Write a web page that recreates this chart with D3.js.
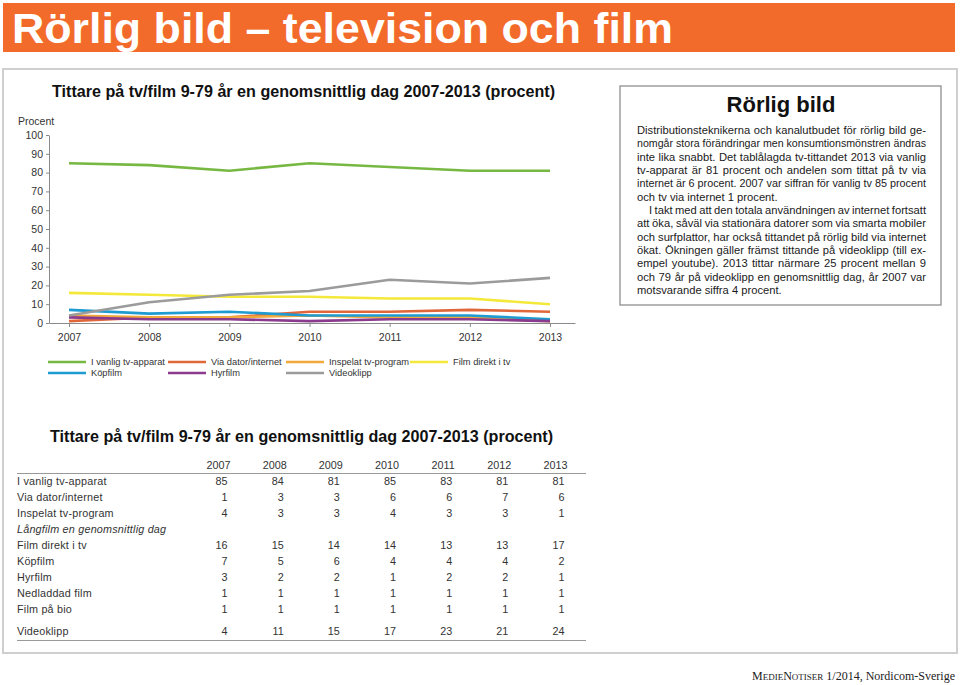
<!DOCTYPE html>
<html><head><meta charset="utf-8">
<script src="https://cdn.jsdelivr.net/npm/d3@7"></script>
<style>
html,body{margin:0;padding:0;background:#fff;}
svg{display:block;font-family:"Liberation Sans",Arial,Helvetica,sans-serif;}
</style></head>
<body><svg id="c" width="960" height="685"></svg>
<script>
// ---------- data ----------
const years = [2007, 2008, 2009, 2010, 2011, 2012, 2013];
const seriesNames = ["I vanlig tv-apparat","Via dator/internet","Inspelat tv-program","Film direkt i tv","Köpfilm","Hyrfilm","Videoklipp"];
const seriesColors = ["#77b843","#e0673a","#f2a93b","#f4e93a","#1e9bd1","#8b3b8d","#9b9b9b"];
const vanligTv   = [85, 84, 81, 85, 83, 81, 81];
const viaDator   = [1, 3, 3, 6, 6, 7, 6];
const inspelat   = [4, 3, 3, 4, 3, 3, 1];
const filmDirekt = [16, 15, 14, 14, 13, 13, 10];
const kopfilm    = [7, 5, 6, 4, 4, 4, 2];
const hyrfilm    = [3, 2, 2, 1, 2, 2, 1];
const videoklipp = [4, 11, 15, 17, 23, 21, 24];
const seriesValues = [vanligTv, viaDator, inspelat, filmDirekt, kopfilm, hyrfilm, videoklipp];
const yTicks = [0,10,20,30,40,50,60,70,80,90,100];

// table
const tableRowLabels = ["I vanlig tv-apparat","Via dator/internet","Inspelat tv-program","Långfilm en genomsnittlig dag","Film direkt i tv","Köpfilm","Hyrfilm","Nedladdad film","Film på bio","Videoklipp"];
const tableRows = [
  ["85","84","81","85","83","81","81"],
  ["1","3","3","6","6","7","6"],
  ["4","3","3","4","3","3","1"],
  null,
  ["16","15","14","14","13","13","17"],
  ["7","5","6","4","4","4","2"],
  ["3","2","2","1","2","2","1"],
  ["1","1","1","1","1","1","1"],
  ["1","1","1","1","1","1","1"],
  ["4","11","15","17","23","21","24"]
];

const pageTitle = "Rörlig bild – television och film";
const chartTitle = "Tittare på tv/film 9-79 år en genomsnittlig dag 2007-2013 (procent)";
const boxTitle = "Rörlig bild";
const boxPara1 = [
 "Distributionsteknikerna och kanalutbudet för rörlig bild ge-",
 "nomgår stora förändringar men konsumtionsmönstren ändras",
 "inte lika snabbt. Det tablålagda tv-tittandet 2013 via vanlig",
 "tv-apparat är 81 procent och andelen som tittat på tv via",
 "internet är 6 procent. 2007 var siffran för vanlig tv 85 procent",
 "och tv via internet 1 procent."];
const boxPara2 = [
 "I takt med att den totala användningen av internet fortsatt",
 "att öka, såväl via stationära datorer som via smarta mobiler",
 "och surfplattor, har också tittandet på rörlig bild via internet",
 "ökat. Ökningen gäller främst tittande på videoklipp (till ex-",
 "empel youtube). 2013 tittar närmare 25 procent mellan 9",
 "och 79 år på videoklipp en genomsnittlig dag, år 2007 var",
 "motsvarande siffra 4 procent."];

// ---------- drawing ----------
const svg = d3.select("#c");

// header
svg.append("rect").attr("x",3).attr("y",3).attr("width",952).attr("height",49).attr("fill","#f36b2a");
svg.append("text").attr("x",12).attr("y",43)
  .attr("font-family","'Liberation Sans Narrow','Liberation Sans',Arial,sans-serif")
  .attr("font-weight","bold").attr("font-size",43).attr("fill","#fff")
  .attr("textLength",661).attr("lengthAdjust","spacingAndGlyphs").text(pageTitle);

// panel border
svg.append("path").attr("d","M3,653 L3,69 L957,69 L957,653 Z")
  .attr("fill","none").attr("stroke","#cfcfcf").attr("stroke-width",2);

// chart title
svg.append("text").attr("x",52).attr("y",97).attr("font-weight","bold").attr("font-size",16)
  .attr("fill","#111").attr("textLength",503).attr("lengthAdjust","spacingAndGlyphs").text(chartTitle);

const x = d3.scaleLinear().domain([2007 - 20/80.17, 2013 + 25/80.17]).range([49, 575]);
const y = d3.scaleLinear().domain([0,100]).range([323,135]);

const yAxis = svg.append("g").attr("transform","translate(49,0)")
  .call(d3.axisLeft(y).tickValues(yTicks).tickSize(3).tickSizeOuter(0).tickPadding(3));
const xAxis = svg.append("g").attr("transform","translate(0,323)")
  .call(d3.axisBottom(x).tickValues(years).tickFormat(d3.format("d")).tickSize(4).tickSizeOuter(0).tickPadding(7));
[yAxis, xAxis].forEach(g=>{
  g.selectAll("path,line").attr("stroke","#8a8a8a");
  g.selectAll("text").attr("font-size",10.5).attr("fill","#333").attr("font-family","'Liberation Sans',Arial,sans-serif");
});
svg.append("text").attr("x",18).attr("y",125).attr("font-size",10.5).attr("fill","#333").text("Procent");

const line = d3.line().x((d,i)=>x(years[i])).y(d=>y(d));
seriesValues.forEach((vals,i)=>{
  svg.append("path").datum(vals).attr("d",line).attr("fill","none")
    .attr("stroke",seriesColors[i]).attr("stroke-width",2.6).attr("stroke-linejoin","round");
});

// legend
const legendPos = [[48,362],[168,362],[286,362],[410,362],[48,373],[168,373],[286,373]];
seriesNames.forEach((n,i)=>{
  const [lx,ly] = legendPos[i];
  svg.append("line").attr("x1",lx).attr("x2",lx+38).attr("y1",ly).attr("y2",ly)
    .attr("stroke",seriesColors[i]).attr("stroke-width",2.6);
  svg.append("text").attr("x",lx+43).attr("y",ly+3.3).attr("font-size",9.3).attr("fill","#333").text(n);
});

// text box
svg.append("rect").attr("x",620).attr("y",86).attr("width",321).attr("height",219)
  .attr("fill","#fff").attr("stroke","#8f8f8f").attr("stroke-width",1.3);
svg.append("text").attr("x",781).attr("y",112).attr("text-anchor","middle")
  .attr("font-weight","bold").attr("font-size",22).attr("fill","#111").text(boxTitle);

function justifiedLines(lines, y0, indent){
  lines.forEach((t,i)=>{
    const lx = 637 + (i===0 ? indent : 0);
    const target = 926 - lx;
    const el = svg.append("text").attr("x",lx).attr("y",y0 + i*13.35)
      .attr("font-size",11.2).attr("fill","#1a1a1a").text(t);
    const nat = el.node().getComputedTextLength();
    const spaces = (t.match(/ /g)||[]).length;
    if (i < lines.length-1) {
      const ws = (target-nat)/spaces;
      if (ws >= -0.8) el.attr("word-spacing", ws);
      else el.attr("textLength", target).attr("lengthAdjust","spacingAndGlyphs");
    } else if (nat > target) {
      el.attr("textLength", target).attr("lengthAdjust","spacingAndGlyphs");
    }
  });
}
justifiedLines(boxPara1, 134, 0);
justifiedLines(boxPara2, 214, 12);

// table
svg.append("text").attr("x",50).attr("y",442).attr("font-weight","bold").attr("font-size",16)
  .attr("fill","#111").attr("textLength",503).attr("lengthAdjust","spacingAndGlyphs").text(chartTitle);
const colX = d3.scalePoint().domain(years).range([218.5,555.5]);
years.forEach(yr=>{
  svg.append("text").attr("x",colX(yr)).attr("y",469).attr("text-anchor","middle")
    .attr("font-size",10.8).attr("fill","#333").text(yr);
});
svg.append("line").attr("x1",17).attr("x2",586).attr("y1",473.5).attr("y2",473.5).attr("stroke","#999").attr("stroke-width",1.2);
const rowY = [485,501,517,533,549,565,581,597,613,635];
tableRowLabels.forEach((lab,r)=>{
  svg.append("text").attr("x",17).attr("y",rowY[r]).attr("font-size",10.8).attr("fill","#333")
    .attr("letter-spacing",0.2)
    .attr("font-style", tableRows[r] ? "normal" : "italic").text(lab);
  if (tableRows[r]) tableRows[r].forEach((v,c)=>{
    svg.append("text").attr("x",colX(years[c])+9).attr("y",rowY[r]).attr("text-anchor","end")
      .attr("font-size",10.8).attr("fill","#333").text(v);
  });
});
svg.append("line").attr("x1",17).attr("x2",586).attr("y1",640.5).attr("y2",640.5).attr("stroke","#999").attr("stroke-width",1.2);

// footer
const ft = svg.append("text").attr("x",955).attr("y",680).attr("text-anchor","end")
  .attr("font-family","'Liberation Serif','Times New Roman',serif").attr("font-size",12)
  .attr("fill","#222");
ft.append("tspan").text("M");
ft.append("tspan").attr("font-size",9).text("EDIE");
ft.append("tspan").text("N");
ft.append("tspan").attr("font-size",9).text("OTISER");
ft.append("tspan").text(" 1/2014, Nordicom-Sverige");
</script></body></html>
